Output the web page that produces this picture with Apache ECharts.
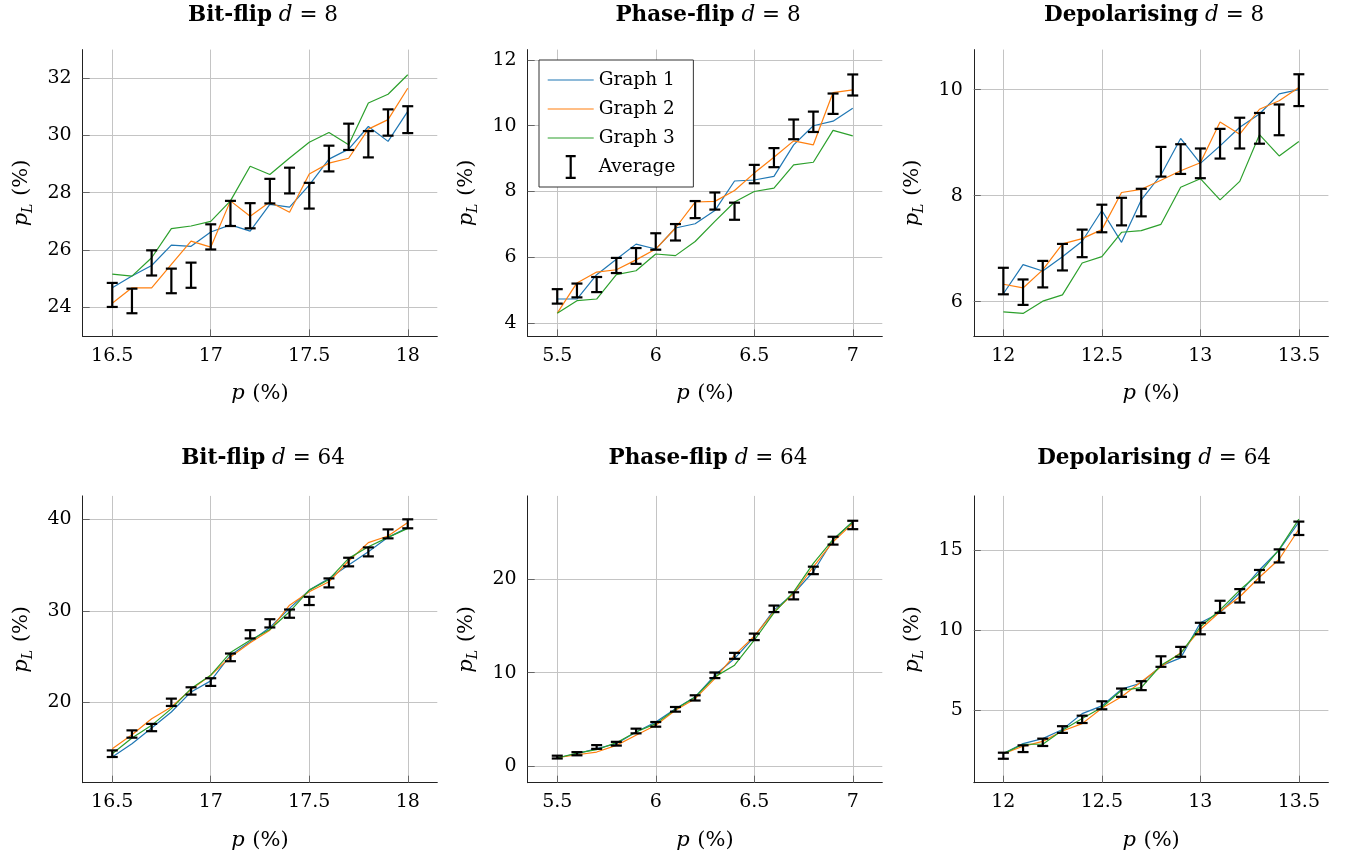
<!DOCTYPE html>
<html>
<head>
<meta charset="utf-8">
<title>Logical error rate vs physical error rate</title>
<script src="https://cdn.jsdelivr.net/npm/echarts@6/dist/echarts.min.js"></script>
<style>
  html, body { margin: 0; padding: 0; background: #fff; }
  #chart { width: 1348px; height: 857px; }
</style>
</head>
<body>
<div id="chart"></div>
<script>
  // physical error rates p (%)
  const pBit = [16.5, 16.6, 16.7, 16.8, 16.9, 17.0, 17.1, 17.2, 17.3, 17.4, 17.5, 17.6, 17.7, 17.8, 17.9, 18.0]
  const pPhase = [5.5, 5.6, 5.7, 5.8, 5.9, 6.0, 6.1, 6.2, 6.3, 6.4, 6.5, 6.6, 6.7, 6.8, 6.9, 7.0]
  const pDep = [12.0, 12.1, 12.2, 12.3, 12.4, 12.5, 12.6, 12.7, 12.8, 12.9, 13.0, 13.1, 13.2, 13.3, 13.4, 13.5]

  // Bit-flip d = 8
  const bit8G1 = [24.67, 25.08, 25.45, 26.16, 26.12, 26.62, 26.87, 26.65, 27.59, 27.49, 28.26, 29.17, 29.52, 30.31, 29.79, 30.84]
  const bit8G2 = [24.13, 24.67, 24.67, 25.49, 26.30, 26.09, 27.71, 27.17, 27.67, 27.31, 28.65, 29.03, 29.20, 30.22, 30.55, 31.65]
  const bit8G3 = [25.15, 25.08, 25.72, 26.74, 26.83, 26.99, 27.71, 28.92, 28.63, 29.21, 29.76, 30.10, 29.67, 31.13, 31.44, 32.12]
  const bit8Avg = [24.42, 24.21, 25.54, 24.91, 25.11, 26.45, 27.27, 27.19, 28.05, 28.42, 27.89, 29.19, 29.95, 29.69, 30.45, 30.55]
  const bit8Err = [0.42, 0.43, 0.44, 0.43, 0.44, 0.44, 0.44, 0.44, 0.43, 0.45, 0.45, 0.45, 0.46, 0.46, 0.46, 0.47]

  // Phase-flip d = 8
  const phase8G1 = [4.73, 4.73, 5.47, 5.94, 6.40, 6.25, 6.89, 7.02, 7.42, 8.32, 8.35, 8.46, 9.42, 10.00, 10.14, 10.53]
  const phase8G2 = [4.30, 5.22, 5.55, 5.62, 5.92, 6.25, 6.89, 7.68, 7.70, 8.03, 8.56, 9.04, 9.54, 9.42, 11.01, 11.09]
  const phase8G3 = [4.30, 4.68, 4.73, 5.47, 5.59, 6.10, 6.05, 6.48, 7.09, 7.68, 8.00, 8.10, 8.81, 8.89, 9.86, 9.69]
  const phase8Avg = [4.81, 4.99, 5.17, 5.75, 6.04, 6.48, 6.76, 7.45, 7.71, 7.40, 8.53, 9.03, 9.89, 10.12, 10.67, 11.24]
  const phase8Err = [0.22, 0.21, 0.23, 0.23, 0.24, 0.25, 0.25, 0.26, 0.26, 0.26, 0.28, 0.29, 0.30, 0.31, 0.31, 0.32]

  // Depolarising d = 8
  const dep8G1 = [6.15, 6.70, 6.58, 6.85, 7.14, 7.72, 7.12, 7.92, 8.39, 9.08, 8.61, 8.94, 9.29, 9.54, 9.92, 10.00]
  const dep8G2 = [6.33, 6.26, 6.60, 7.09, 7.19, 7.36, 8.06, 8.12, 8.29, 8.47, 8.62, 9.39, 9.16, 9.63, 9.79, 10.04]
  const dep8G3 = [5.81, 5.78, 6.01, 6.13, 6.73, 6.85, 7.31, 7.34, 7.46, 8.16, 8.32, 7.92, 8.27, 9.15, 8.75, 9.02]
  const dep8Avg = [6.39, 6.18, 6.52, 6.84, 7.10, 7.57, 7.70, 7.87, 8.64, 8.69, 8.61, 8.98, 9.18, 9.27, 9.43, 9.99]
  const dep8Err = [0.25, 0.24, 0.25, 0.25, 0.26, 0.26, 0.26, 0.26, 0.28, 0.28, 0.28, 0.28, 0.29, 0.29, 0.29, 0.30]

  // Bit-flip d = 64
  const bit64G1 = [14.01, 15.47, 17.19, 18.94, 21.13, 22.34, 25.15, 26.61, 28.18, 30.26, 32.26, 33.54, 35.00, 36.46, 38.03, 39.09]
  const bit64G2 = [14.93, 16.46, 18.21, 19.49, 21.39, 22.96, 24.96, 26.50, 27.88, 30.62, 32.08, 33.18, 35.44, 37.45, 38.18, 39.64]
  const bit64G3 = [14.38, 16.09, 17.48, 19.31, 21.50, 22.96, 25.44, 26.79, 27.96, 29.89, 32.26, 33.43, 35.73, 37.00, 38.03, 39.01]
  const bit64Avg = [14.38, 16.53, 17.24, 20.00, 21.24, 22.21, 24.91, 27.43, 28.63, 29.69, 31.08, 33.05, 35.33, 36.44, 38.41, 39.51]
  const bit64Err = [0.36, 0.40, 0.40, 0.40, 0.40, 0.42, 0.42, 0.45, 0.45, 0.45, 0.45, 0.49, 0.47, 0.49, 0.49, 0.49]

  // Phase-flip d = 64
  const phase64G1 = [0.89, 1.32, 1.86, 2.39, 3.64, 4.71, 6.14, 7.39, 9.71, 11.50, 13.82, 16.68, 18.46, 20.79, 24.18, 26.14]
  const phase64G2 = [0.89, 1.21, 1.50, 2.21, 3.29, 4.36, 5.96, 7.21, 9.36, 11.86, 13.89, 16.50, 18.46, 21.32, 24.00, 25.96]
  const phase64G3 = [0.86, 1.39, 1.75, 2.50, 3.64, 4.54, 6.07, 7.39, 9.54, 10.79, 13.46, 16.39, 18.64, 21.68, 24.25, 26.14]
  const phase64Avg = [0.96, 1.32, 2.04, 2.39, 3.75, 4.46, 6.07, 7.29, 9.71, 11.79, 13.82, 16.82, 18.21, 20.93, 24.11, 25.79]
  const phase64Err = [0.15, 0.17, 0.20, 0.20, 0.25, 0.25, 0.25, 0.28, 0.30, 0.32, 0.35, 0.35, 0.38, 0.40, 0.42, 0.45]

  // Depolarising d = 64
  const dep64G1 = [2.26, 2.89, 3.20, 3.77, 4.77, 5.25, 6.30, 6.69, 7.76, 8.26, 10.46, 11.09, 12.34, 13.77, 15.02, 16.76]
  const dep64G2 = [2.26, 2.72, 3.03, 3.68, 4.14, 5.10, 5.82, 6.76, 7.70, 8.58, 10.04, 11.15, 12.09, 13.31, 14.44, 16.32]
  const dep64G3 = [2.26, 2.85, 2.85, 3.73, 4.46, 5.15, 6.23, 6.40, 7.80, 8.54, 10.21, 11.26, 12.51, 13.56, 15.06, 16.95]
  const dep64Avg = [2.13, 2.57, 2.97, 3.77, 4.41, 5.29, 6.08, 6.52, 8.03, 8.64, 10.10, 11.46, 12.15, 13.38, 14.65, 16.38]
  const dep64Err = [0.19, 0.21, 0.23, 0.21, 0.23, 0.25, 0.26, 0.28, 0.33, 0.31, 0.36, 0.38, 0.42, 0.39, 0.41, 0.42]

  // tick labels
  const xTicksBit = [16.5, 17, 17.5, 18]
  const xTicksPhase = [5.5, 6, 6.5, 7]
  const xTicksDep = [12, 12.5, 13, 13.5]
  const yTicks = [[24, 26, 28, 30, 32], [4, 6, 8, 10, 12], [6, 8, 10], [20, 30, 40], [0, 10, 20], [5, 10, 15]]

  const noiseNames = ['Bit-flip', 'Phase-flip', 'Depolarising', 'Bit-flip', 'Phase-flip', 'Depolarising']
  const distances = [8, 8, 8, 64, 64, 64]
  const seriesNames = ['Graph 1', 'Graph 2', 'Graph 3']

  const pValues = [pBit, pPhase, pDep, pBit, pPhase, pDep]
  const xTicks = [xTicksBit, xTicksPhase, xTicksDep, xTicksBit, xTicksPhase, xTicksDep]
  const graphs = [
    [bit8G1, bit8G2, bit8G3], [phase8G1, phase8G2, phase8G3], [dep8G1, dep8G2, dep8G3],
    [bit64G1, bit64G2, bit64G3], [phase64G1, phase64G2, phase64G3], [dep64G1, dep64G2, dep64G3]
  ]
  const averages = [bit8Avg, phase8Avg, dep8Avg, bit64Avg, phase64Avg, dep64Avg]
  const errors = [bit8Err, phase8Err, dep8Err, bit64Err, phase64Err, dep64Err]

  // axis ranges (pgfplots enlarges limits a bit)
  const xRange = [[16.35, 18.15], [5.35, 7.15], [11.85, 13.65]]
  const yRange = [[22.97, 33.0], [3.593, 12.316], [5.346, 10.755], [11.21, 42.56], [-1.78, 28.9], [0.44, 18.41]]

  // layout
  const colLeft = [82.7, 527.7, 973.8]
  const rowTop = [49.6, 495.9]
  const titleTop = [-1, 442]
  const plotW = 354.6
  const plotH = 286.8
  const FONT = 'DejaVu Serif'
  const colours = ['#1f77b4', '#ff7f0e', '#2ca02c']

  // invisible corner dots keep the icon box at 46x24
  const boxDots = 'M0,0h0.01v0.01h-0.01z M46,24h-0.01v-0.01h0.01z '
  const lineIcon = 'path://' + boxDots + 'M0,11.4H46V12.6H0Z'
  const barIcon = 'path://' + boxDots + 'M18,0H28V2.2H24.1V21.8H28V24H18V21.8H21.9V2.2H18Z'

  function drawErrorBar (params, api) {
    const x = api.value(0)
    const c = api.value(1)
    const h = api.value(2)
    const hi = api.coord([x, c + h])
    const lo = api.coord([x, c - h])
    const cap = 5.5
    const style = { stroke: '#000', lineWidth: 2.2 }
    return {
      type: 'group',
      children: [
        { type: 'line', shape: { x1: hi[0], y1: hi[1], x2: lo[0], y2: lo[1] }, style: style },
        { type: 'line', shape: { x1: hi[0] - cap, y1: hi[1], x2: hi[0] + cap, y2: hi[1] }, style: style },
        { type: 'line', shape: { x1: lo[0] - cap, y1: lo[1], x2: lo[0] + cap, y2: lo[1] }, style: style }
      ]
    }
  }

  let grids = []
  let xAxes = []
  let yAxes = []
  let titles = []
  let series = []

  for (let i = 0; i < 6; i++) {
    const col = i % 3
    const row = Math.floor(i / 3)
    grids.push({
      left: colLeft[col],
      top: rowTop[row],
      width: plotW,
      height: plotH,
      outerBoundsMode: 'none'
    })
    titles.push({
      text: '{b|' + noiseNames[i] + '} {i|d} {n|= ' + distances[i] + '}',
      left: colLeft[col] + plotW / 2 - 2,
      top: titleTop[row],
      textAlign: 'center',
      textStyle: {
        fontFamily: FONT,
        fontSize: 21.5,
        fontWeight: 'normal',
        color: '#000',
        rich: {
          b: { fontFamily: FONT, fontSize: 21.5, fontWeight: 'bold', color: '#000' },
          i: { fontFamily: FONT, fontSize: 21.5, fontWeight: 'normal', fontStyle: 'italic', color: '#000' },
          n: { fontFamily: FONT, fontSize: 21.5, fontWeight: 'normal', color: '#000' }
        }
      }
    })
    xAxes.push({
      gridIndex: i,
      type: 'value',
      min: xRange[col][0],
      max: xRange[col][1],
      name: '{i|p}  {n|(%)}',
      nameLocation: 'middle',
      nameGap: 47,
      nameTextStyle: {
        rich: {
          i: { fontFamily: FONT, fontSize: 21, fontStyle: 'italic', color: '#000' },
          n: { fontFamily: FONT, fontSize: 21, color: '#000' }
        }
      },
      axisLine: { onZero: false, lineStyle: { color: '#222', width: 1 } },
      axisTick: { inside: true, length: 7, customValues: xTicks[i], lineStyle: { color: '#666' } },
      axisLabel: { customValues: xTicks[i], margin: 10, fontFamily: FONT, fontSize: 19, color: '#000' },
      splitLine: { show: true, lineStyle: { color: '#c4c4c4', width: 1 } }
    })
    yAxes.push({
      gridIndex: i,
      type: 'value',
      min: yRange[i][0],
      max: yRange[i][1],
      name: '{i|p}{s|L}  {n|(%)}',
      nameLocation: 'middle',
      nameGap: 47,
      nameTextStyle: {
        rich: {
          i: { fontFamily: FONT, fontSize: 21, fontStyle: 'italic', color: '#000', lineHeight: 28 },
          s: { fontFamily: FONT, fontSize: 14, fontStyle: 'italic', color: '#000', lineHeight: 15, verticalAlign: 'bottom' },
          n: { fontFamily: FONT, fontSize: 21, color: '#000', lineHeight: 28 }
        }
      },
      axisLine: { show: true, onZero: false, lineStyle: { color: '#222', width: 1 } },
      axisTick: { show: true, inside: true, length: 7, customValues: yTicks[i], lineStyle: { color: '#666' } },
      axisLabel: { customValues: yTicks[i], margin: 11, fontFamily: FONT, fontSize: 19, color: '#000' },
      splitLine: { show: true, lineStyle: { color: '#c4c4c4', width: 1 } }
    })
    for (let k = 0; k < 3; k++) {
      series.push({
        name: seriesNames[k],
        type: 'line',
        xAxisIndex: i,
        yAxisIndex: i,
        symbol: 'none',
        color: colours[k],
        lineStyle: { width: 1.2, color: colours[k] },
        data: pValues[i].map((p, j) => [p, graphs[i][k][j]]),
        z: 2
      })
    }
    series.push({
      name: 'Average',
      type: 'custom',
      xAxisIndex: i,
      yAxisIndex: i,
      renderItem: drawErrorBar,
      encode: { x: 0, y: 1 },
      itemStyle: { color: '#000' },
      data: pValues[i].map((p, j) => [p, averages[i][j], errors[i][j]]),
      z: 5
    })
  }

  const chart = echarts.init(document.getElementById('chart'))
  chart.setOption({
    animation: false,
    backgroundColor: '#fff',
    textStyle: { fontFamily: FONT },
    title: titles,
    legend: {
      orient: 'vertical',
      left: 539,
      top: 60,
      itemWidth: 46,
      itemHeight: 24,
      itemGap: 5,
      padding: [8, 18, 8, 8.7],
      borderColor: '#333',
      borderWidth: 1,
      borderRadius: 0,
      backgroundColor: '#fff',
      textStyle: { fontFamily: FONT, fontSize: 18.5, color: '#000' },
      data: [
        { name: 'Graph 1', icon: lineIcon, itemStyle: { color: colours[0] } },
        { name: 'Graph 2', icon: lineIcon, itemStyle: { color: colours[1] } },
        { name: 'Graph 3', icon: lineIcon, itemStyle: { color: colours[2] } },
        { name: 'Average', icon: barIcon, itemStyle: { color: '#000' } }
      ]
    },
    grid: grids,
    xAxis: xAxes,
    yAxis: yAxes,
    series: series
  })
</script>
</body>
</html>
